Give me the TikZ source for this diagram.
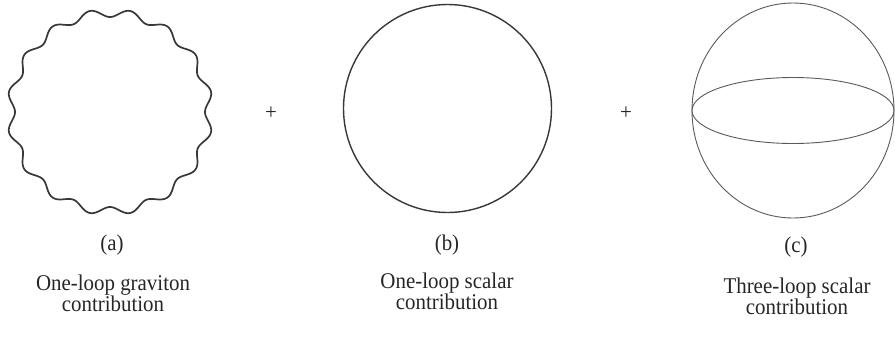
\documentclass[tikz,border=0pt]{standalone}
\usepackage{fontspec}
\setmainfont[FakeStretch=0.93]{Liberation Serif}
\begin{document}
\begin{tikzpicture}[x=1pt,y=-1pt,
  lbl/.style={inner sep=0pt,anchor=base,font=\fontsize{22.5}{22}\selectfont,text=black!85},
  wavy/.style={draw=black!78,line width=1.7pt,line join=round},
  loopline/.style={draw=black!78,line width=1.4pt},
  thinline/.style={draw=black!65,line width=0.9pt}]
\useasboundingbox (0,0) rectangle (895,341);
% (a) graviton loop
\coordinate (ca) at (110,112);
\draw[wavy] plot[domain=0:360,samples=481,smooth,variable=\t]
  ({110+(99-4*cos(16*\t))*cos(\t)},{112+(99-4*cos(16*\t))*sin(\t)}) -- cycle;
% (b) scalar loop
\node[loopline,circle,minimum size=208pt,inner sep=0pt] (cb) at (447.5,108.5) {};
% (c) three-loop
\draw[thinline] (793,110.5) ellipse [x radius=101,y radius=107.5];
\draw[thinline] (793,110.5) ellipse [x radius=101,y radius=33];
\coordinate (cc) at (793,110.5);
% plus signs
\node[lbl] (p1) at (271,119) {+};
\node[lbl] (p2) at (626,119) {+};
% labels
\node[lbl] (la) at (112,250) {(a)};
\node[lbl] (lb) at (447,250) {(b)};
\node[lbl] (lc) at (796,252) {(c)};
\node[lbl] (ta1) at (113,290) {One-loop graviton};
\node[lbl] (ta2) at (113,311) {contribution};
\node[lbl] (tb1) at (447,288) {One-loop scalar};
\node[lbl] (tb2) at (447,309) {contribution};
\node[lbl] (tc1) at (797,293) {Three-loop scalar};
\node[lbl] (tc2) at (797,314) {contribution};
\end{tikzpicture}
\end{document}
